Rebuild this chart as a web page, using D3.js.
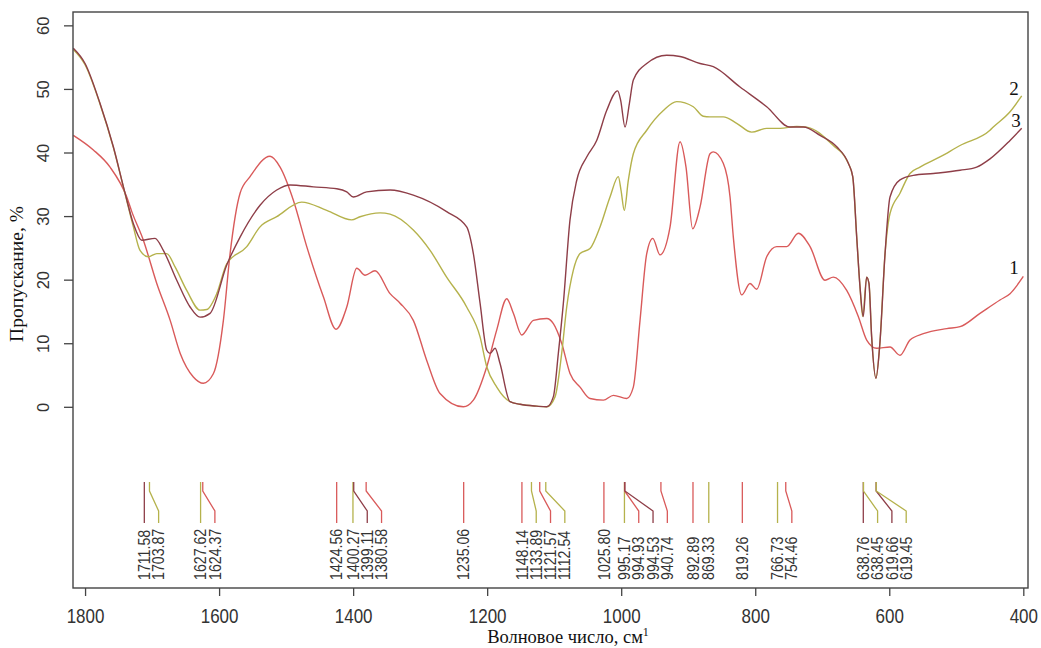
<!DOCTYPE html>
<html>
<head>
<meta charset="utf-8">
<script src="https://cdn.jsdelivr.net/npm/d3@7"></script>
<style>
  body { margin: 0; background: #fff; }
  text { font-family: "Liberation Sans", Arial, sans-serif; }
  .serif { font-family: "Liberation Serif", "Times New Roman", serif; }
</style>
</head>
<body>
<svg id="chart" width="1041" height="648"></svg>
<script>
// IR transmission spectra: wavenumber (cm^-1) vs transmission (%)
const waveTicks = [1800, 1600, 1400, 1200, 1000, 800, 600, 400];
const transTicks = [0, 10, 20, 30, 40, 50, 60];

const seriesNames = ["1", "2", "3"];
const seriesColors = ["#d95a5a", "#b5b24c", "#8e3e48"];

// Sample 1
const spectrum1 = [
  [1817.5, 42.7], [1787.6, 40.4], [1762.7, 37.7], [1737.8, 33.0], [1730.3, 30.7],
  [1713, 26.2], [1693, 19.4], [1673, 13.6], [1658, 8.4], [1638.4, 4.7],
  [1623.5, 3.7], [1608.6, 5.2], [1593.6, 13.6], [1583.6, 24.1], [1568.7, 33.6],
  [1553.8, 36.2], [1524, 39.4], [1509, 37.7], [1489.2, 32.5], [1469.2, 25.2],
  [1444.4, 17.3], [1425.5, 12.2], [1409.5, 15.7], [1394.6, 21.8], [1382.2, 20.7],
  [1367.3, 21.4], [1344.9, 17.8], [1330, 16.3], [1310.2, 13.6], [1290.2, 7.3],
  [1270.3, 2.1], [1235.5, 0.0], [1220.6, 1.05], [1200.6, 6.3], [1185.7, 12.1],
  [1170.8, 17.0], [1160.9, 14.7], [1148.4, 11.3], [1131, 13.6], [1111.1, 13.9],
  [1101.2, 13.1], [1088.8, 10.0], [1076.4, 5.25], [1061.4, 3.1], [1046.5, 1.3],
  [1026.6, 1.05], [1011.7, 1.8], [991.7, 1.3], [981.9, 3.1], [971.9, 13.6],
  [961.9, 24.1], [952.9, 26.5], [942.1, 23.9], [927.1, 28.3], [912.2, 41.7],
  [903.3, 37.7], [893.4, 28.0], [882.4, 31.4], [867.5, 39.8], [862.6, 40.1],
  [847.7, 38.3], [837.6, 33.0], [832.7, 26.7], [820.2, 17.6], [807.8, 19.4],
  [797.8, 18.5], [782.9, 23.6], [768, 25.2], [753, 25.2], [735.7, 27.3],
  [718.2, 25.2], [695.8, 19.9], [683.5, 20.4], [663.5, 18.3], [646.2, 14.2],
  [633.7, 10.5], [618.8, 9.2], [598.9, 9.4], [584, 8.1], [569.1, 10.5],
  [549.2, 11.5], [514.3, 12.3], [494.4, 12.6], [464.6, 14.7], [434.8, 16.8],
  [419.8, 17.8], [400, 20.5]
];

// Sample 2
const spectrum2 = [
  [1817.5, 56.2], [1800, 53.8], [1777.6, 47.6], [1757.8, 40.8], [1740.3, 33.5],
  [1727.9, 28.3], [1718, 24.6], [1705.6, 23.6], [1693, 24.1], [1678.1, 24.1],
  [1665.7, 22.0], [1648.3, 18.3], [1628.4, 15.2], [1618.4, 15.3], [1603.5, 17.8],
  [1588.6, 22.5], [1558.7, 25.2], [1538.9, 28.3], [1514, 29.9], [1476.8, 32.2],
  [1439.4, 30.9], [1402.2, 29.4], [1389.7, 29.9], [1359.8, 30.5], [1344.9, 30.3],
  [1310.2, 27.8], [1285.2, 24.6], [1260.5, 20.4], [1230.6, 15.7], [1210.6, 11.0],
  [1200.6, 6.3], [1185.7, 3.1], [1165.9, 0.8], [1150.9, 0.4], [1126.1, 0.1],
  [1111.1, 0.0], [1098.6, 1.6], [1088.8, 8.4], [1081.3, 15.7], [1071.4, 21.5],
  [1061.4, 24.1], [1046.5, 24.9], [1031.6, 28.3], [1016.7, 33.0], [1004.3, 36.2],
  [1000.3, 34.1], [995.4, 30.9], [989.4, 35.6], [981.9, 39.8], [961.9, 43.5],
  [937.1, 46.6], [917.3, 48.0], [892.4, 47.2], [877.5, 45.7], [867.5, 45.6],
  [847.7, 45.6], [827.7, 44.6], [805.3, 43.2], [782.9, 43.8], [763, 43.8],
  [738.1, 44.1], [723.2, 44.0], [683.5, 41.1], [663.5, 38.8], [654.5, 36.2],
  [648.6, 26.7], [643.7, 18.9], [639.7, 14.2], [633.7, 20.4], [630.3, 19.4],
  [626.3, 11.0], [619.9, 4.5], [614, 10.0], [606.3, 24.1], [598.9, 30.4],
  [584, 33.6], [569.1, 36.7], [554.2, 37.7], [524.4, 39.3], [494.4, 41.1],
  [449.7, 43.5], [444.8, 44.0], [419.8, 46.4], [402.4, 48.9]
];

// Sample 3
const spectrum3 = [
  [1817.5, 56.4], [1800, 54.0], [1777.6, 47.7], [1757.8, 40.9], [1740.3, 33.6],
  [1727.9, 28.8], [1715.4, 26.2], [1695.6, 26.5], [1683.2, 24.6], [1663.2, 19.9],
  [1643.3, 15.7], [1628.4, 14.1], [1613.5, 14.7], [1588.6, 22.3], [1568.7, 26.7],
  [1538.9, 31.7], [1514, 34.1], [1494.1, 34.9], [1459.3, 34.6], [1424.4, 34.3],
  [1409.5, 33.8], [1399.7, 33.0], [1379.8, 33.8], [1344.9, 34.1], [1310.2, 33.3],
  [1260.5, 30.7], [1230.6, 28.3], [1220.6, 24.1], [1210.6, 16.3], [1200.6, 8.9],
  [1195.7, 8.4], [1188.2, 9.2], [1180.8, 6.8], [1165.9, 0.8], [1150.9, 0.4],
  [1126.1, 0.1], [1111.1, 0.0], [1101.2, 1.6], [1093.8, 8.4], [1086.3, 16.3],
  [1076.4, 29.4], [1066.4, 35.6], [1051.5, 39.3], [1036.6, 41.9], [1021.7, 46.6],
  [1005.3, 49.7], [1000.8, 48.2], [994.3, 44.0], [987.8, 47.7], [981.9, 51.4],
  [961.9, 54.0], [932.1, 55.3], [912.2, 55.1], [882.4, 54.0], [862.6, 53.5],
  [822.7, 50.3], [782.9, 47.2], [748.1, 44.0], [728.2, 44.0], [703.3, 42.7],
  [678.4, 40.9], [661.1, 38.3], [654.5, 36.2], [648.6, 26.7], [643.7, 18.9],
  [638.8, 14.2], [633.7, 20.4], [630.3, 19.4], [626.3, 11.0], [619.9, 4.5],
  [614, 10.0], [606.3, 24.1], [598.9, 33.0], [584, 35.7], [564.1, 36.4],
  [534.3, 36.7], [494.4, 37.2], [469.6, 37.7], [449.7, 39.0], [419.8, 41.9],
  [402.4, 43.8]
];

// Curve number annotations (wavenumber, transmission)
const seriesLabelWave = [414, 414, 411];
const seriesLabelTrans = [21.9, 50.1, 45.0];

// Marked band positions and the sample each belongs to (0 = sample 1, ...)
const peakLabels = ["1711.58", "1703.87", "1627.62", "1624.37", "1424.56", "1400.27",
  "1399.11", "1380.58", "1235.06", "1148.14", "1133.89", "1121.57", "1112.54",
  "1025.80", "995.17", "994.93", "994.53", "940.74", "892.89", "869.33", "819.26",
  "766.73", "754.46", "638.76", "638.45", "619.66", "619.45"];
const peakSeries = [2, 1, 1, 0, 0, 1, 2, 0, 0, 0, 1, 0, 1, 0, 1, 0, 2, 0, 0, 1, 0, 1, 0, 2, 1, 2, 1];

const svg = d3.select("#chart");
const plot = { left: 73, right: 1028, top: 12, bottom: 588 };

const x = d3.scaleLinear().domain([1818, 393]).range([plot.left, plot.right]);
const y = d3.scaleLinear().domain([-28.5, 62.1]).range([plot.bottom, plot.top]);

// Spectra
const line = d3.line()
  .x(d => x(d[0]))
  .y(d => y(d[1]))
  .curve(d3.curveMonotoneX);

const spectra = [spectrum1, spectrum2, spectrum3];
spectra.forEach((s, i) => {
  svg.append("path")
    .datum(s)
    .attr("d", line)
    .attr("fill", "none")
    .attr("stroke", seriesColors[i])
    .attr("stroke-width", 1.4)
    .attr("stroke-linejoin", "round");
});

// Curve numbers
seriesNames.forEach((n, i) => {
  svg.append("text")
    .attr("class", "serif")
    .attr("x", x(seriesLabelWave[i]))
    .attr("y", y(seriesLabelTrans[i]))
    .attr("text-anchor", "middle")
    .attr("dy", "0.35em")
    .attr("font-size", 19)
    .attr("fill", "#111")
    .text(n);
});

// Band markers: a short line at each band, bent sideways so the labels do not collide
const gap = 14.3;
const peaks = peakLabels.map((lab, i) => ({ lab, wave: +lab, s: peakSeries[i], px: x(+lab) }))
  .sort((a, b) => a.px - b.px);
peaks.forEach((p, i) => {
  p.lx = i === 0 ? p.px : Math.max(p.px, peaks[i - 1].lx + gap);
});

const markTop = 482, bendTop = 491, bendBottom = 511, markBottom = 523, labelBase = 580;
const markers = svg.append("g");
peaks.forEach(p => {
  markers.append("path")
    .attr("d", `M${p.px},${markTop}L${p.px},${bendTop}L${p.lx},${bendBottom}L${p.lx},${markBottom}`)
    .attr("fill", "none")
    .attr("stroke", seriesColors[p.s])
    .attr("stroke-width", 1.3);
  markers.append("text")
    .attr("transform", `translate(${p.lx},${labelBase}) rotate(-90) scale(1,1.1)`)
    .attr("dy", "0.36em")
    .attr("font-size", 14.2)
    .attr("fill", "#333")
    .text(p.lab);
});

// Frame
svg.append("rect")
  .attr("x", plot.left).attr("y", plot.top)
  .attr("width", plot.right - plot.left).attr("height", plot.bottom - plot.top)
  .attr("fill", "none").attr("stroke", "#444").attr("stroke-width", 1.4);

// Bottom axis
const xAxis = svg.append("g")
  .attr("transform", `translate(0,${plot.bottom})`)
  .call(d3.axisBottom(x).tickValues(waveTicks).tickSize(8).tickPadding(0).tickFormat(d3.format("d")));
xAxis.select(".domain").remove();
xAxis.selectAll(".tick line").attr("stroke", "#444").attr("stroke-width", 1.3);
xAxis.selectAll(".tick text")
  .attr("font-size", 17).attr("fill", "#333")
  .attr("dy", null).attr("y", 0)
  .attr("transform", "translate(0,35) scale(1,1.15)");

// Left axis
const yAxis = svg.append("g")
  .attr("transform", `translate(${plot.left},0)`)
  .call(d3.axisLeft(y).tickValues(transTicks).tickSize(9).tickFormat(d3.format("d")));
yAxis.select(".domain").remove();
yAxis.selectAll(".tick line").attr("stroke", "#444").attr("stroke-width", 1.3);
yAxis.selectAll(".tick text")
  .attr("font-size", 16.5).attr("fill", "#333")
  .attr("x", null).attr("dy", null)
  .attr("text-anchor", "middle")
  .attr("transform", "translate(-24,0) rotate(-90)");

// Axis titles
const xt = svg.append("text")
  .attr("class", "serif")
  .attr("x", 568).attr("y", 643)
  .attr("text-anchor", "middle")
  .attr("font-size", 18.5)
  .attr("fill", "#111");
xt.append("tspan").text("Волновое число, см");
xt.append("tspan").attr("dy", -7).attr("font-size", 12).text("1");

svg.append("text")
  .attr("class", "serif")
  .attr("transform", "translate(23,274) rotate(-90)")
  .attr("text-anchor", "middle")
  .attr("font-size", 19.5)
  .attr("fill", "#111")
  .text("Пропускание, %");
</script>
</body>
</html>
